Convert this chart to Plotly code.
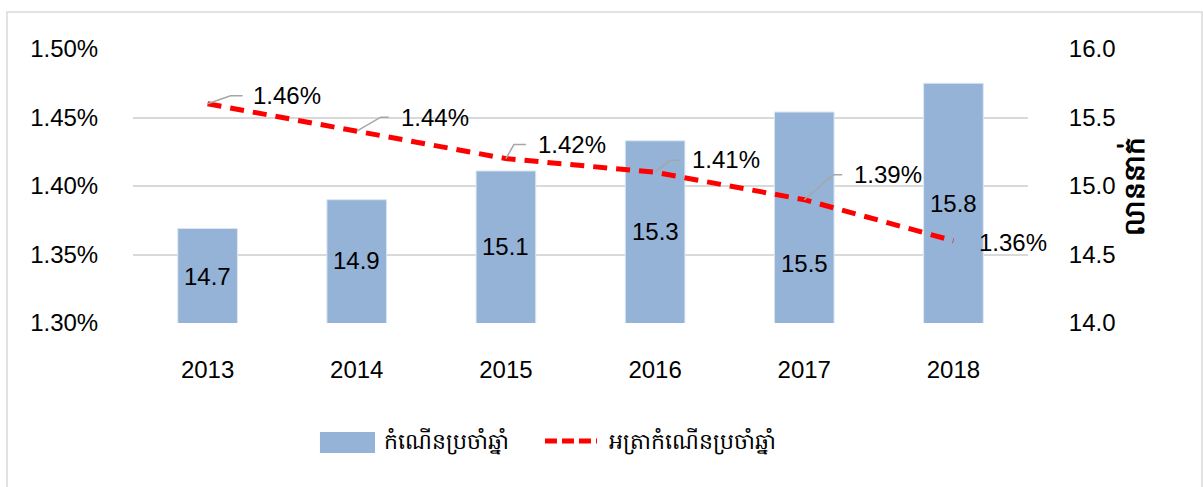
import plotly.graph_objects as go

years = [2013, 2014, 2015, 2016, 2017, 2018]
population = [14.69, 14.90, 15.11, 15.33, 15.54, 15.75]   # million people (bars, right axis)
growth_rate = [1.46, 1.44, 1.42, 1.41, 1.39, 1.36]         # percent (line, left axis)

bar_name = "កំណើនប្រចាំឆ្នាំ"
line_name = "អត្រាកំណើនប្រចាំឆ្នាំ"
right_title = "លាននាក់"

# label placement (pixels)
bar_label_shift = [-48, -61, -76, -91, -151, -120]
rate_label_dx = [43, 42, 30, 35, 48, 24]
rate_label_dy = [8, 14, 14, 13, 25, -2]
leader_paths = [
    "M0,0 L23,8 L35,8",
    "M0,0 L24,14 L32,14",
    "M0,0 L8,14 L20,14",
    "M0,0 L15,12 L25,12",
    "M0,0 L29,25 L38,25",
    None,
]

FONT = "Liberation Sans, Arial, sans-serif"
BAR_C = "#95B3D7"
LINE_C = "#FF0000"
GRID_C = "#D9D9D9"

fig = go.Figure()
fig.add_trace(go.Bar(
    x=years, y=population, name=bar_name, yaxis="y",
    width=0.4, marker=dict(color=BAR_C, line=dict(color="#DCE6F2", width=1)),
    showlegend=False, hoverinfo="skip",
))
fig.add_trace(go.Scatter(
    x=years, y=growth_rate, name=line_name, yaxis="y2", mode="lines",
    line=dict(color=LINE_C, width=5, dash="14px,9px"),
    showlegend=False, hoverinfo="skip",
))

annotations = []
shapes = []
for yr, v, s in zip(years, population, bar_label_shift):
    annotations.append(dict(
        x=yr, y=v, xref="x", yref="y", yshift=s, text=f"{v:.1f}",
        showarrow=False, xanchor="center", yanchor="middle",
        font=dict(family=FONT, size=24, color="#000000"),
    ))
for yr, v, dx, dy, p in zip(years, growth_rate, rate_label_dx, rate_label_dy, leader_paths):
    annotations.append(dict(
        x=yr, y=v, xref="x", yref="y2", xshift=dx, yshift=dy, text=f"{v:.2f}%",
        showarrow=False, xanchor="left", yanchor="middle",
        font=dict(family=FONT, size=24, color="#000000"),
    ))
    if p:
        shapes.append(dict(
            type="path", xref="x", yref="y2", xsizemode="pixel", ysizemode="pixel",
            xanchor=yr, yanchor=v, path=p,
            line=dict(color="#A6A6A6", width=1.5), layer="above",
        ))

# manual legend
shapes.append(dict(type="rect", xref="paper", yref="paper",
                   x0=0.2089, x1=0.2704, y0=-0.4745, y1=-0.3978,
                   fillcolor=BAR_C, line=dict(width=0)))
shapes.append(dict(type="line", xref="paper", yref="paper",
                   x0=0.4603, x1=0.5184, y0=-0.4307, y1=-0.4307,
                   line=dict(color=LINE_C, width=5, dash="12px,5px")))
annotations.append(dict(x=0.2782, y=-0.4307, xref="paper", yref="paper", text=bar_name,
                        showarrow=False, xanchor="left", yanchor="middle",
                        font=dict(family=FONT, size=22, color="#000000")))
annotations.append(dict(x=0.5296, y=-0.4307, xref="paper", yref="paper", text=line_name,
                        showarrow=False, xanchor="left", yanchor="middle",
                        font=dict(family=FONT, size=22, color="#000000")))
# outer border
shapes.append(dict(type="rect", xref="paper", yref="paper",
                   x0=-0.1408, x1=1.1944, y0=-0.609, y1=1.135,
                   line=dict(color="#D9D9D9", width=1.5), fillcolor="rgba(0,0,0,0)",
                   layer="below"))

fig.update_layout(
    width=1203, height=487,
    margin=dict(l=133, r=175, t=49, b=164),
    paper_bgcolor="white", plot_bgcolor="white",
    font=dict(family=FONT, size=24, color="#000000"),
    xaxis=dict(
        tickmode="array", tickvals=years, ticktext=[str(y) for y in years],
        range=[2012.5, 2018.5], showgrid=False, zeroline=False, showline=False,
        ticks="outside", ticklen=25, tickcolor="rgba(0,0,0,0)",
        tickfont=dict(family=FONT, size=24, color="#000000"),
    ),
    yaxis=dict(
        side="right", range=[14.0, 16.0], dtick=0.5, tickformat=".1f",
        showgrid=True, gridcolor=GRID_C, gridwidth=1.5, zeroline=False,
        ticks="outside", ticklen=35, tickcolor="rgba(0,0,0,0)",
        tickfont=dict(family=FONT, size=24, color="#000000"),
        title=dict(text="<b>" + right_title + "</b>", standoff=8,
                   font=dict(family=FONT, size=28, color="#000000")),
    ),
    yaxis2=dict(
        overlaying="y", side="left", range=[1.30, 1.50], dtick=0.05,
        tickformat=".2f", ticksuffix="%", showgrid=False, zeroline=False,
        ticks="outside", ticklen=29, tickcolor="rgba(0,0,0,0)",
        tickfont=dict(family=FONT, size=24, color="#000000"),
    ),
    annotations=annotations, shapes=shapes,
)

fig.write_html("out.html")
